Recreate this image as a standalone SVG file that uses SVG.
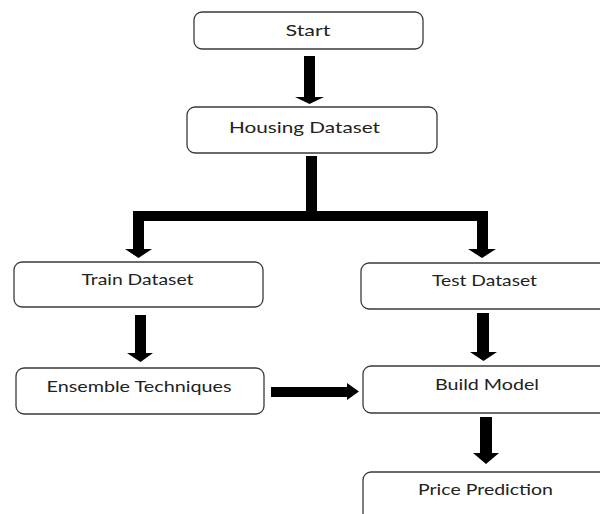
<svg xmlns="http://www.w3.org/2000/svg" width="600" height="514" viewBox="0 0 600 514">
<style>
.box{fill:#fff;stroke:#3a3a3a;stroke-width:1.3}
.lbl{font-family:Lato,"Open Sans","Liberation Sans",sans-serif;font-size:15px;fill:#222;text-anchor:middle}
.arr{fill:#000}
</style>
<rect width="600" height="514" fill="#fff"/>
<g id="connectors">
<polygon class="arr" points="304,56 315,56 315,97 324,97 309.5,104 295,97 304,97"/>
<polygon class="arr" points="306,156 317,156 317,211 488,211 488,249 496,249 482,258 468,249 477,249 477,221 144,221 144,249 152,249 138.5,258 125,249 133,249 133,211 306,211"/>
<polygon class="arr" points="135,315 146,315 146,353 153,353 140.5,362 127,353 135,353"/>
<polygon class="arr" points="477,313 489,313 489,352 497,352 483.5,361 470,352 477,352"/>
<polygon class="arr" points="271,387 347,387 347,383 359,391.5 347,400 347,397 271,397"/>
<polygon class="arr" points="480,417 492,417 492,453 499,453 486,464 473,453 480,453"/>
</g>
<g id="start"><rect class="box" x="194" y="12" width="229" height="37" rx="8"/><text class="lbl" x="308" y="36" textLength="45" lengthAdjust="spacingAndGlyphs">Start</text></g>
<g id="housing"><rect class="box" x="187" y="107" width="250" height="46" rx="8"/><text class="lbl" x="304.5" y="133" textLength="151" lengthAdjust="spacingAndGlyphs">Housing Dataset</text></g>
<g id="train"><rect class="box" x="14" y="262" width="249" height="45" rx="8"/><text class="lbl" x="137.5" y="285" textLength="112" lengthAdjust="spacingAndGlyphs">Train Dataset</text></g>
<g id="test"><rect class="box" x="361" y="263" width="250" height="46" rx="8"/><text class="lbl" x="484.5" y="286" textLength="105" lengthAdjust="spacingAndGlyphs">Test Dataset</text></g>
<g id="ensemble"><rect class="box" x="16" y="368" width="248" height="46" rx="8"/><text class="lbl" x="139" y="392" textLength="185" lengthAdjust="spacingAndGlyphs">Ensemble Techniques</text></g>
<g id="build"><rect class="box" x="363" y="366" width="250" height="47" rx="8"/><text class="lbl" x="487" y="390" textLength="104" lengthAdjust="spacingAndGlyphs">Build Model</text></g>
<g id="price"><rect class="box" x="363" y="472" width="250" height="60" rx="8"/><text class="lbl" x="485.5" y="495" textLength="135" lengthAdjust="spacingAndGlyphs">Price Prediction</text></g>
</svg>
